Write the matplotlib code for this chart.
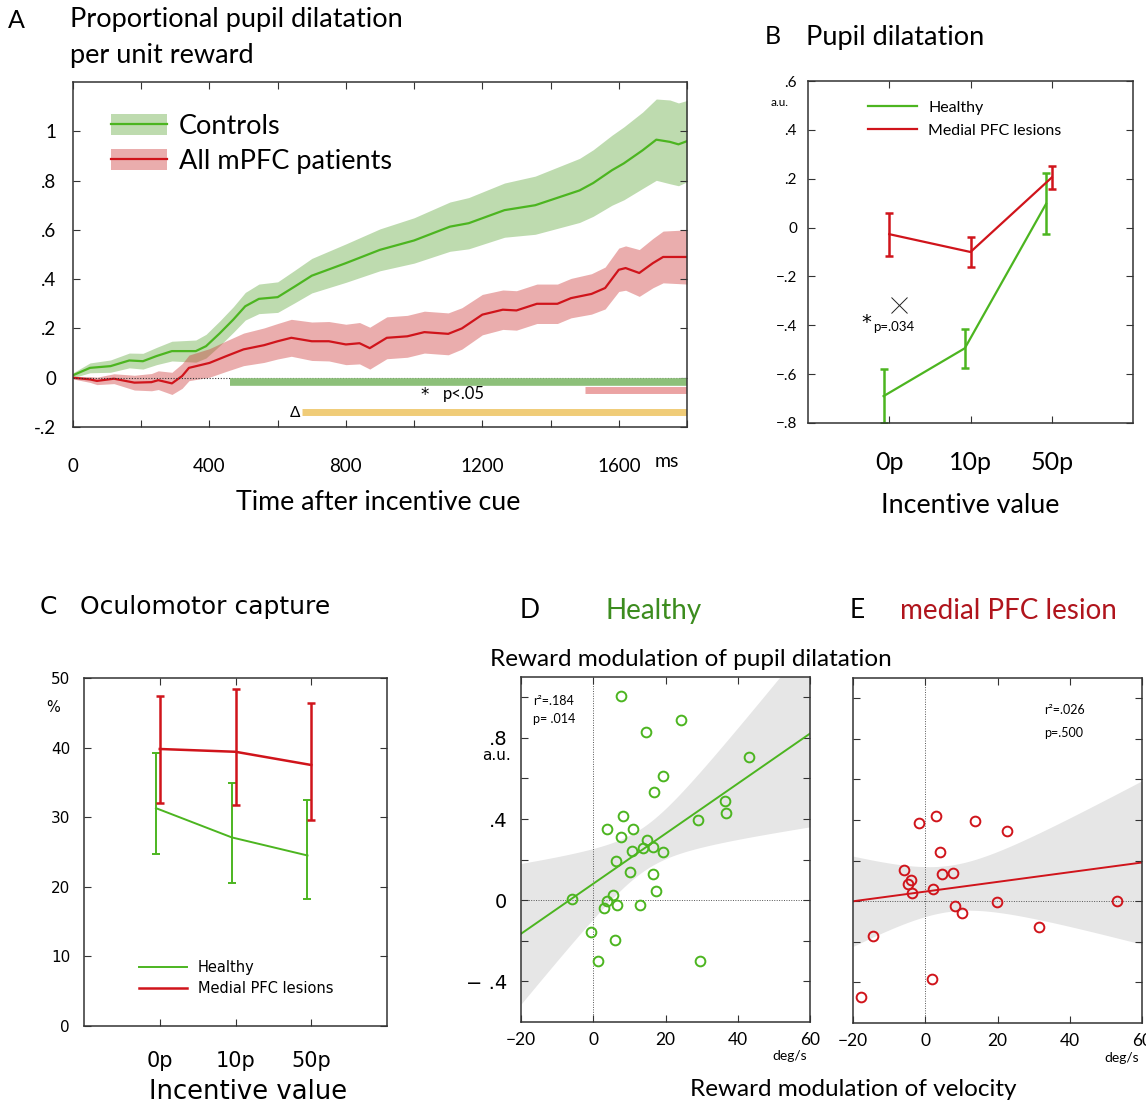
import numpy as np
import matplotlib
matplotlib.use('Agg')
import matplotlib.pyplot as plt
from matplotlib.patches import Patch
from matplotlib.lines import Line2D
from matplotlib.legend_handler import HandlerTuple

plt.rcParams['font.family'] = ['Lato', 'DejaVu Sans']
plt.rcParams['axes.unicode_minus'] = True

# ---------------- data ----------------
# A: proportional pupil dilatation per unit reward (time course)
ctrl_t = [0, 50, 110, 165, 205, 245, 290, 360, 390, 430, 470, 505, 545, 600, 650,
          700, 800, 900, 1000, 1105, 1160, 1265, 1355, 1485, 1525, 1580, 1615,
          1670, 1710, 1750, 1775, 1800]
ctrl_mean = [0.01, 0.04, 0.047, 0.07, 0.067, 0.088, 0.108, 0.108, 0.128, 0.18, 0.236,
             0.29, 0.32, 0.327, 0.37, 0.414, 0.465, 0.519, 0.557, 0.613, 0.627, 0.68,
             0.70, 0.76, 0.79, 0.842, 0.87, 0.923, 0.966, 0.957, 0.947, 0.96]
ctrl_sem = [0.01, 0.02, 0.025, 0.03, 0.032, 0.035, 0.04, 0.045, 0.048, 0.05, 0.052,
            0.056, 0.06, 0.062, 0.066, 0.07, 0.078, 0.085, 0.092, 0.1, 0.104, 0.11,
            0.118, 0.13, 0.135, 0.142, 0.148, 0.155, 0.165, 0.17, 0.168, 0.165]

pat_t = [0, 50, 70, 120, 180, 230, 250, 290, 320, 340, 400, 450, 500, 560, 600, 640,
         700, 750, 800, 840, 870, 920, 980, 1030, 1100, 1140, 1200, 1260, 1300, 1360,
         1420, 1460, 1520, 1560, 1600, 1620, 1660, 1700, 1730, 1800]
pat_mean = [0.0, -0.007, -0.013, -0.004, -0.02, -0.018, -0.01, -0.023, 0.007, 0.04,
            0.06, 0.088, 0.115, 0.132, 0.148, 0.162, 0.148, 0.148, 0.135, 0.14, 0.12,
            0.162, 0.168, 0.185, 0.178, 0.2, 0.256, 0.276, 0.273, 0.30, 0.30, 0.323,
            0.34, 0.364, 0.438, 0.445, 0.425, 0.465, 0.49, 0.49]
pat_sem = [0.005, 0.012, 0.015, 0.02, 0.03, 0.035, 0.038, 0.045, 0.05, 0.052, 0.058,
           0.062, 0.066, 0.07, 0.072, 0.075, 0.078, 0.08, 0.082, 0.084, 0.085, 0.085,
           0.085, 0.085, 0.085, 0.084, 0.082, 0.08, 0.08, 0.08, 0.08, 0.08, 0.082,
           0.085, 0.088, 0.09, 0.095, 0.1, 0.105, 0.11]

# significance bars (start ms, end ms)
sig_ctrl = (461, 1800)
sig_pat = (1500, 1800)
sig_diff = (671, 1800)

# B: pupil dilatation by incentive
incentives = ['0p', '10p', '50p']
B_healthy = [-0.69, -0.494, 0.097]
B_healthy_err = [0.11, 0.08, 0.125]
B_lesion = [-0.027, -0.10, 0.205]
B_lesion_err = [0.088, 0.06, 0.048]

# C: oculomotor capture (%)
C_healthy = [31.3, 27.1, 24.5]
C_healthy_lo = [24.7, 20.6, 18.3]
C_healthy_hi = [39.2, 34.9, 32.4]
C_lesion = [39.8, 39.4, 37.5]
C_lesion_lo = [32.0, 31.8, 29.6]
C_lesion_hi = [47.4, 48.4, 46.4]

# D: healthy, reward modulation of velocity vs pupil
D_x = [7.75, 24.4, 14.7, 43.1, 19.3, 16.8, 36.4, 36.8, 8.1, 29.0, 3.7, 10.9, 7.6,
       14.8, 10.7, 13.7, 16.5, 19.4, 6.3, 10.1, 16.5, 17.5, -6.0, 5.4, 3.9, 3.0,
       6.6, 12.9, -0.7, 6.1, 1.4, 29.5]
D_y = [1.004, 0.889, 0.83, 0.705, 0.611, 0.533, 0.489, 0.43, 0.413, 0.395, 0.351,
       0.352, 0.314, 0.298, 0.242, 0.257, 0.262, 0.237, 0.193, 0.137, 0.128, 0.046,
       0.007, 0.025, -0.003, -0.036, -0.025, -0.025, -0.156, -0.196, -0.301, -0.301]

# E: medial PFC lesion
E_x = [2.95, -1.66, 13.7, 22.5, 4.06, -5.9, 4.7, 7.6, -4.0, -4.8, 2.2, -3.8, 8.1,
       10.2, 19.9, 53.0, 31.5, -14.5, 2.0, -17.8]
E_y = [0.418, 0.384, 0.395, 0.344, 0.242, 0.153, 0.133, 0.14, 0.105, 0.086, 0.061,
       0.04, -0.025, -0.059, -0.002, 0.0, -0.125, -0.17, -0.385, -0.474]

t_crit_D = 2.042   # df = 30
t_crit_E = 2.101   # df = 18

# ---------------- style ----------------
GREEN = '#4cb520'
RED = '#d0141b'
SPINE = '#333333'

W, H = 1146, 1104
fig = plt.figure(figsize=(W / 100, H / 100), dpi=100)


def px_axes(l, t, r, b):
    return fig.add_axes([l / W, 1 - b / H, (r - l) / W, (b - t) / H])


def style_axes(ax, fam='Lato', size=13):
    for s in ax.spines.values():
        s.set_linewidth(1.1)
        s.set_color(SPINE)
    ax.tick_params(direction='in', top=True, right=True, length=5, width=0.8,
                   color=SPINE, labelsize=size, labelfontfamily=fam)


def fit_band(x, y, t_crit, xs):
    x = np.asarray(x)
    y = np.asarray(y)
    b, a = np.polyfit(x, y, 1)
    n = len(x)
    s = np.sqrt(np.sum((y - (a + b * x)) ** 2) / (n - 2))
    sxx = np.sum((x - x.mean()) ** 2)
    se = s * np.sqrt(1 / n + (xs - x.mean()) ** 2 / sxx)
    yhat = a + b * xs
    return yhat, yhat - t_crit * se, yhat + t_crit * se


# ---------------- A ----------------
axA = px_axes(73, 82, 687, 427)
style_axes(axA, size=13.5)
ct = np.array(ctrl_t); cm = np.array(ctrl_mean); cs = np.array(ctrl_sem)
pt = np.array(pat_t); pm = np.array(pat_mean); ps = np.array(pat_sem)
axA.fill_between(ct, cm - cs, cm + cs, color='#6fb04f', alpha=0.45, lw=0)
axA.fill_between(pt, pm - ps, pm + ps, color='#cc3333', alpha=0.4, lw=0)
axA.plot(ct, cm, color=GREEN, lw=1.6)
axA.plot(pt, pm, color=RED, lw=1.6)
axA.axhline(0, color='#333333', lw=0.8, ls=(0, (1, 1.5)))
axA.plot(sig_ctrl, [-0.016, -0.016], color='#8dc07a', lw=5.5, solid_capstyle='butt')
axA.plot(sig_pat, [-0.048, -0.048], color='#eba3a3', lw=5, solid_capstyle='butt')
axA.plot(sig_diff, [-0.14, -0.14], color='#f0cc78', lw=5, solid_capstyle='butt')
axA.text(1030, -0.072, '*', fontsize=12, ha='center', va='center', family='DejaVu Sans')
axA.text(1085, -0.068, 'p<.05', fontsize=12, ha='left', va='center')
axA.text(sig_diff[0] - 5, -0.145, '\u0394', fontsize=11, ha='right', va='center')
axA.set_xlim(0, 1800)
axA.set_ylim(-0.2, 1.2)
axA.set_xticks(np.arange(0, 1801, 200))
axA.set_xticklabels(['0', '', '400', '', '800', '', '1200', '', '1600', ''])
axA.set_yticks([-0.2, 0, 0.2, 0.4, 0.6, 0.8, 1.0])
axA.set_yticklabels(['-.2', '0', '.2', '.4', '.6', '.8', '1'])
axA.tick_params(axis='x', pad=22)
axA.tick_params(axis='y', pad=12)
axA.text(1740, -0.1, 'ms', transform=axA.get_xaxis_transform(), fontsize=14,
         ha='center', va='center')
hA = [(Patch(color='#6fb04f', alpha=0.45, lw=0), Line2D([], [], color=GREEN, lw=1.6)),
      (Patch(color='#cc3333', alpha=0.4, lw=0), Line2D([], [], color=RED, lw=1.6))]
axA.legend(hA, ['Controls', 'All mPFC patients'], handler_map={tuple: HandlerTuple(ndivide=1)},
           loc='upper left', bbox_to_anchor=(0.062, 0.907), frameon=False, fontsize=19.5,
           borderpad=0, borderaxespad=0,
           handlelength=2.07, handleheight=0.8, labelspacing=0.35, handletextpad=0.42)

fig.text(8 / W, 1 - 20 / H, 'A', fontsize=18, va='center')
fig.text(70 / W, 1 - 20 / H, 'Proportional pupil dilatation', fontsize=19.5, va='center')
fig.text(70 / W, 1 - 55 / H, 'per unit reward', fontsize=19.5, va='center')
fig.text(378 / W, 1 - 502 / H, 'Time after incentive cue', fontsize=19.3, ha='center',
         va='center')

# ---------------- B ----------------
axB = px_axes(808, 81, 1133, 423)
style_axes(axB, size=11)
xb = np.arange(1, 4)
axB.plot(xb - 0.07, B_healthy, color=GREEN, lw=1.6, label='Healthy')
axB.errorbar(xb - 0.07, B_healthy, yerr=B_healthy_err, fmt='none', ecolor=GREEN,
             elinewidth=1.8, capsize=3, capthick=1.8)
axB.plot(xb, B_lesion, color=RED, lw=1.6, label='Medial PFC lesions')
axB.errorbar(xb, B_lesion, yerr=B_lesion_err, fmt='none', ecolor=RED,
             elinewidth=1.8, capsize=3, capthick=1.8)
axB.plot([1.12], [-0.316], marker='x', ms=12, mew=0.7, color='#222222')
axB.text(0.72, -0.39, '*', fontsize=14, ha='center', va='center', family='DejaVu Sans')
axB.text(0.8, -0.405, 'p=.034', fontsize=9.5, ha='left', va='center')
axB.set_xlim(0, 4)
axB.set_ylim(-0.8, 0.6)
axB.set_xticks(xb)
axB.set_xticklabels(incentives)
axB.tick_params(axis='x', labelsize=18, pad=20)
axB.set_yticks(np.arange(-0.8, 0.61, 0.2))
axB.set_yticklabels(['\u2212.8', '\u2212.6', '\u2212.4', '\u2212.2', '0', '.2', '.4', '.6'])
axB.tick_params(axis='y', pad=8)
axB.text(-0.06, 0.51, 'a.u.', transform=axB.get_yaxis_transform(), fontsize=8.5,
         ha='right', va='center')
axB.legend(loc='upper left', bbox_to_anchor=(0.185, 0.943), frameon=False, fontsize=11.5,
           borderpad=0, borderaxespad=0,
           handlelength=3.06, labelspacing=0.55, handletextpad=0.69)
fig.text(765 / W, 1 - 37 / H, 'B', fontsize=18, va='center')
fig.text(806 / W, 1 - 37 / H, 'Pupil dilatation', fontsize=19.5, va='center')
fig.text(970 / W, 1 - 506 / H, 'Incentive value', fontsize=19.4, ha='center', va='center')

# ---------------- C ----------------
axC = px_axes(84, 678, 387, 1026)
style_axes(axC, fam='DejaVu Sans', size=11)
xg = xb - 0.05
ch = np.array(C_healthy); cl = np.array(C_lesion)
axC.plot(xg, ch, color=GREEN, lw=1.4, label='Healthy')
axC.errorbar(xg, ch, yerr=[ch - np.array(C_healthy_lo), np.array(C_healthy_hi) - ch],
             fmt='none', ecolor=GREEN, elinewidth=1.4, capsize=3, capthick=1.4)
axC.plot(xb, cl, color=RED, lw=1.8, label='Medial PFC lesions')
axC.errorbar(xb, cl, yerr=[cl - np.array(C_lesion_lo), np.array(C_lesion_hi) - cl],
             fmt='none', ecolor=RED, elinewidth=1.8, capsize=3, capthick=1.8)
axC.set_xlim(0, 4)
axC.set_ylim(0, 50)
axC.set_xticks(xb)
axC.set_xticklabels(incentives)
axC.tick_params(axis='x', labelsize=15, pad=18)
axC.set_yticks(np.arange(0, 51, 10))
axC.tick_params(axis='y', pad=10)
axC.text(-0.08, 45.8, '%', transform=axC.get_yaxis_transform(), fontsize=10.5,
         ha='right', va='center', family='DejaVu Sans')
axC.legend(loc='lower left', bbox_to_anchor=(0.1815, 0.085), frameon=False,
           prop={'family': 'DejaVu Sans', 'size': 10.5}, borderpad=0, borderaxespad=0,
           handlelength=3.3, labelspacing=0.45, handletextpad=0.75)
fig.text(40 / W, 1 - 607 / H, 'C', fontsize=18, va='center', family='DejaVu Sans')
fig.text(80 / W, 1 - 607 / H, 'Oculomotor capture', fontsize=18, va='center',
         family='DejaVu Sans')
fig.text(248 / W, 1 - 1092 / H, 'Incentive value', fontsize=18.6, ha='center', va='center',
         family='DejaVu Sans')

# ---------------- D & E ----------------
xs = np.linspace(-20, 60, 200)
yt = [-0.4, -0.2, 0, 0.2, 0.4, 0.6, 0.8, 1.0]


def scatter_panel(ax, x, y, t_crit, color):
    style_axes(ax, size=12.5)
    yhat, lo, hi = fit_band(x, y, t_crit, xs)
    ax.fill_between(xs, lo, hi, color='#e6e6e6', lw=0, zorder=0)
    ax.axhline(0, color='#555555', lw=0.7, ls=(0, (1, 1.5)), zorder=1)
    ax.axvline(0, color='#555555', lw=0.7, ls=(0, (1, 1.5)), zorder=1)
    ax.plot(xs, yhat, color=color, lw=1.4, zorder=2)
    ax.plot(x, y, 'o', ms=7, mfc='none', mec=color, mew=1.4, zorder=3)
    ax.set_xlim(-20, 60)
    ax.set_ylim(-0.6, 1.1)
    ax.set_xticks([-20, 0, 20, 40, 60])
    ax.set_yticks(yt)
    ax.tick_params(axis='x', pad=7)
    ax.text(0.99, -0.1, 'deg/s', transform=ax.transAxes, fontsize=10, ha='right', va='center')


axD = px_axes(521, 677, 810, 1022)
scatter_panel(axD, D_x, D_y, t_crit_D, GREEN)
axD.set_yticklabels(['\u2212 .4', '', '0', '', '.4', '', '.8', ''])
axD.tick_params(axis='y', labelsize=14, pad=10, labelfontfamily='DejaVu Sans')
axD.text(-0.035, 0.715, 'a.u.', transform=axD.get_yaxis_transform(), fontsize=11,
         ha='right', va='center', family='DejaVu Sans')
axD.text(0.043, 0.931, 'r\u00b2=.184', transform=axD.transAxes, fontsize=9, va='center')
axD.text(0.043, 0.878, 'p= .014', transform=axD.transAxes, fontsize=9, va='center')

axE = px_axes(853, 678, 1142, 1023)
scatter_panel(axE, E_x, E_y, t_crit_E, RED)
axE.set_yticklabels([])
axE.text(0.661, 0.906, 'r\u00b2=.026', transform=axE.transAxes, fontsize=9, va='center')
axE.text(0.661, 0.84, 'p=.500', transform=axE.transAxes, fontsize=9, va='center')

fig.text(520 / W, 1 - 611 / H, 'D', fontsize=19, va='center')
fig.text(605 / W, 1 - 611 / H, 'Healthy', fontsize=20, va='center', color='#3c8c1e')
fig.text(850 / W, 1 - 611 / H, 'E', fontsize=19, va='center')
fig.text(900 / W, 1 - 611 / H, 'medial PFC lesion', fontsize=20, va='center', color='#b0141c')
fig.text(490 / W, 1 - 659 / H, 'Reward modulation of pupil dilatation', fontsize=17.5,
         va='center')
fig.text(690 / W, 1 - 1089 / H, 'Reward modulation of velocity', fontsize=17.5, va='center')

plt.savefig('out.png', dpi=100)
plt.close()
